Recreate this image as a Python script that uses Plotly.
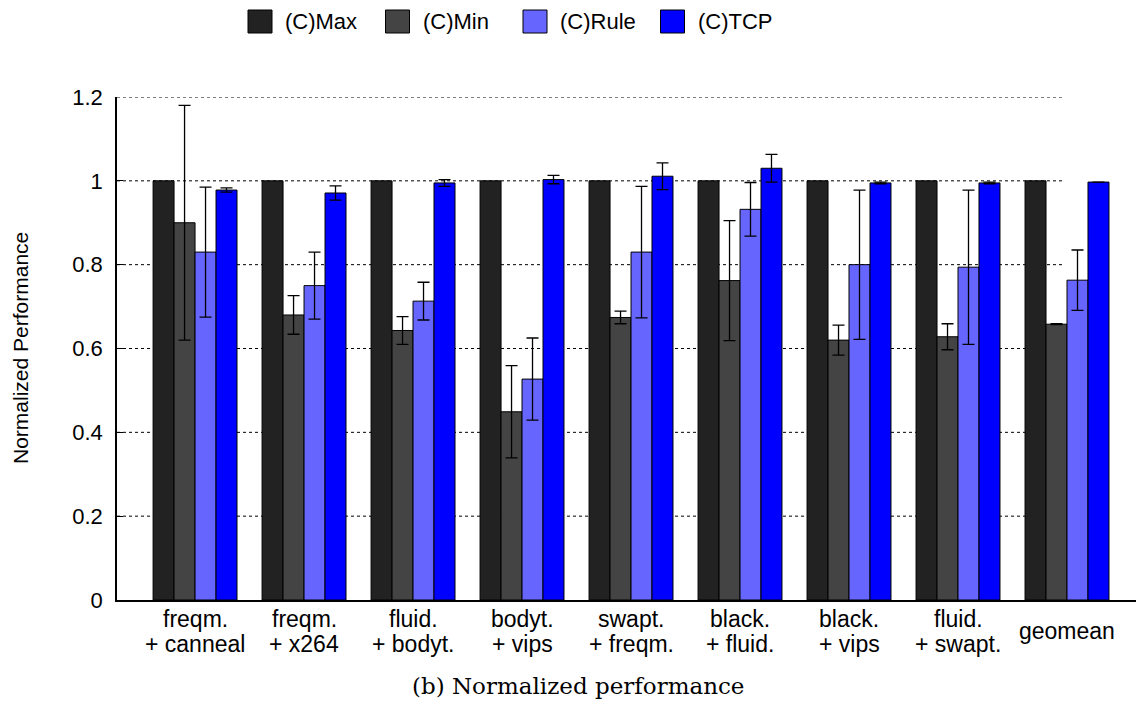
import plotly.graph_objects as go

# Workload pairs (two-line labels) and the summary column
categories = ["freqm.<br>+ canneal", "freqm.<br>+ x264", "fluid.<br>+ bodyt.",
              "bodyt.<br>+ vips", "swapt.<br>+ freqm.", "black.<br>+ fluid.",
              "black.<br>+ vips", "fluid.<br>+ swapt.", "geomean"]

series_names = ["(C)Max", "(C)Min", "(C)Rule", "(C)TCP"]

max_vals = [1, 1, 1, 1, 1, 1, 1, 1, 1]
min_vals = [0.90, 0.68, 0.643, 0.449, 0.674, 0.762, 0.620, 0.628, 0.658]
rule_vals = [0.830, 0.750, 0.713, 0.527, 0.830, 0.932, 0.800, 0.794, 0.763]
tcp_vals = [0.978, 0.971, 0.995, 1.003, 1.011, 1.030, 0.995, 0.995, 0.997]

min_err = [0.28, 0.046, 0.033, 0.11, 0.015, 0.143, 0.036, 0.031, 0.001]
rule_err = [0.155, 0.08, 0.045, 0.098, 0.157, 0.064, 0.178, 0.184, 0.072]
tcp_err = [0.005, 0.017, 0.008, 0.01, 0.032, 0.033, 0.002, 0.002, 0.0]

y_ticks = [0, 0.2, 0.4, 0.6, 0.8, 1.0, 1.2]
y_tick_labels = ["0", "0.2", "0.4", "0.6", "0.8", "1", "1.2"]

colors = ["#222222", "#444444", "#6666ff", "#0000ff"]

values = [max_vals, min_vals, rule_vals, tcp_vals]
errors = [None, min_err, rule_err, tcp_err]

W, H = 1136, 704
ML, MR, MT, MB = 117, 0, 97, 104
PW, PH = W - ML - MR, H - MT - MB
SANS = "Liberation Sans"


def px(xp):
    """pixel column -> paper x"""
    return (xp - ML) / PW


def py(yp):
    """pixel row -> paper y"""
    return (H - MB - yp) / PH


fig = go.Figure()
for name, vals, err, col in zip(series_names, values, errors, colors):
    kw = {}
    if err is not None:
        kw["error_y"] = dict(type="data", array=err, visible=True,
                             color="#000000", thickness=1.3, width=6)
    fig.add_trace(go.Bar(
        x=categories, y=vals, name=name, showlegend=False,
        marker=dict(color=col, line=dict(color="#000000", width=1)),
        **kw,
    ))

shapes = []
annotations = []

# dotted horizontal guides
for t in y_ticks[1:]:
    shapes.append(dict(type="line", xref="paper", yref="y", x0=0, x1=px(1063),
                       y0=t, y1=t, layer="below",
                       line=dict(color="#000000", width=1, dash="dot")))

# legend row: filled boxes with names
for i, (name, col) in enumerate(zip(series_names, colors)):
    x0 = 248 + i * 137.5
    shapes.append(dict(type="rect", xref="paper", yref="paper",
                       x0=px(x0), x1=px(x0 + 24), y0=py(33), y1=py(10),
                       fillcolor=col, line=dict(color="#000000", width=1)))
    annotations.append(dict(x=px(x0 + 35), y=py(22), xref="paper", yref="paper",
                            text=name, showarrow=False, xanchor="left",
                            yanchor="middle",
                            font=dict(family=SANS, size=22, color="#000000")))

# category labels below the axis; single-line labels sit between the rows
for c in categories:
    lines = c.split("<br>")
    rows = [631] if len(lines) == 1 else [619, 644]
    for txt, row in zip(lines, rows):
        annotations.append(dict(x=c, xref="x", y=py(row), yref="paper",
                                text=txt, showarrow=False, yanchor="middle",
                                xanchor="center",
                                font=dict(family=SANS, size=23, color="#000000")))

# y-axis title
annotations.append(dict(x=px(20), y=py(348), xref="paper", yref="paper",
                        text="Normalized Performance", textangle=-90,
                        showarrow=False, xanchor="center", yanchor="middle",
                        font=dict(family=SANS, size=21, color="#000000")))

# caption
annotations.append(dict(x=px(578), y=py(686), xref="paper", yref="paper",
                        text="(b) Normalized performance", showarrow=False,
                        xanchor="center", yanchor="middle",
                        font=dict(family="DejaVu Serif", size=23,
                                  color="#000000")))

fig.update_layout(
    width=W, height=H,
    margin=dict(l=ML, r=MR, t=MT, b=MB),
    paper_bgcolor="white", plot_bgcolor="white",
    barmode="group", bargap=0.23, bargroupgap=0,
    font=dict(family=SANS, size=22, color="#000000"),
    shapes=shapes, annotations=annotations,
    showlegend=False,
    xaxis=dict(range=[-0.716, 8.633], showticklabels=False, ticks="",
               showline=True, linecolor="#000000", linewidth=1.5,
               showgrid=False, zeroline=False),
    yaxis=dict(range=[0, 1.2], tickvals=y_ticks, ticktext=y_tick_labels,
               showline=True, linecolor="#000000", linewidth=1.5,
               showgrid=False, zeroline=False,
               ticks="inside", ticklen=6, tickwidth=1, tickcolor="#000000",
               ticklabelstandoff=8,
               tickfont=dict(family=SANS, size=22, color="#000000")),
)

fig.write_html("out.html")
